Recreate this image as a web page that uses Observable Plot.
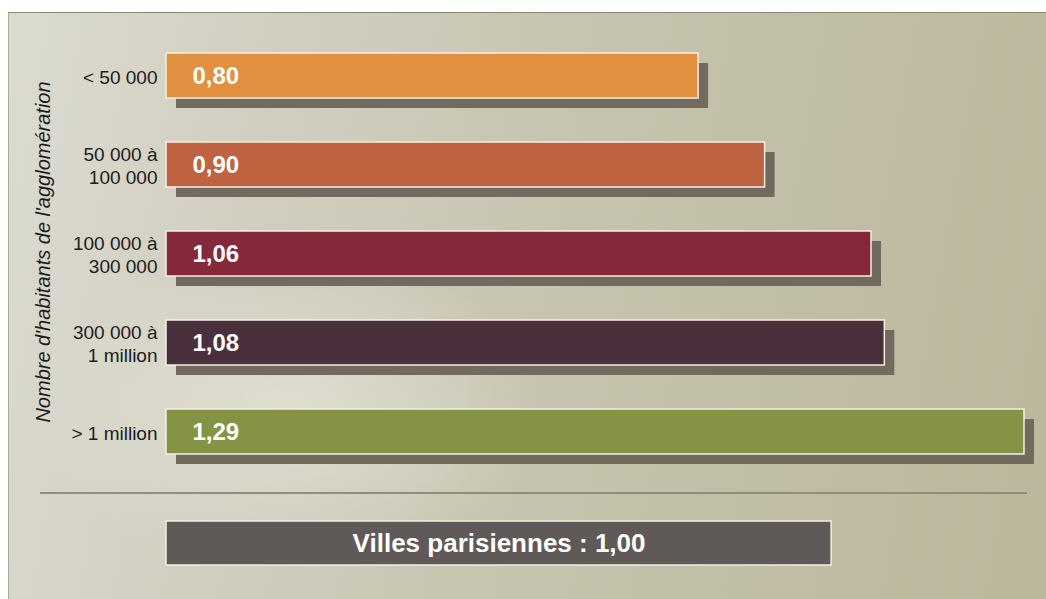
<!DOCTYPE html>
<html>
<head>
<meta charset="utf-8">
<script src="https://cdn.jsdelivr.net/npm/d3@7"></script>
<script src="https://cdn.jsdelivr.net/npm/@observablehq/plot@0.6"></script>
<style>
  html, body { margin: 0; padding: 0; background: #ffffff; }
  #panel {
    position: absolute; left: 8px; top: 12px; width: 1038px; height: 587px;
    border-top: 1px solid #8a8670; border-left: 1px solid #a9a796; box-sizing: border-box;
    background:
      radial-gradient(ellipse 260px 160px at 27% 68%, rgba(238,236,226,0.55), rgba(238,236,226,0) 100%),
      linear-gradient(100deg, #dcdbd0 0%, #d0cebf 25%, #c5c3ad 55%, #bfbca3 80%, #bab79d 100%);
    font-family: "Liberation Sans", Arial, sans-serif;
    overflow: hidden;
  }
  #panel svg { display: block; background: transparent; }
  #divider { margin: 9px 0 0 31px; width: 987px; height: 2px; background: #8f8d7b; }
</style>
</head>
<body>
<div id="panel"></div>
<script>
const categories = ["< 50 000", "50 000 à\n100 000", "100 000 à\n300 000", "300 000 à\n1 million", "> 1 million"];
const values = [0.80, 0.90, 1.06, 1.08, 1.29];
const colors = ["#e0903f", "#bf6340", "#85293a", "#4a2f3d", "#849444"];
const axisTitle = "Nombre d'habitants de l'agglomération";
const parisLabel = "Villes parisiennes";
const parisValue = 1.00;

const fmt = v => v.toFixed(2).replace(".", ",");
const data = categories.map((c, i) => ({category: c, value: values[i]}));
const xDomain = [0, d3.max(values)];

const panel = document.getElementById("panel");

const main = Plot.plot({
  width: 1037, height: 470,
  marginLeft: 157, marginRight: 22, marginTop: 16, marginBottom: 5,
  style: {background: "transparent", color: "#1c1c1c", fontFamily: "Liberation Sans, Arial, sans-serif"},
  x: {domain: xDomain, axis: null},
  y: {domain: categories, paddingInner: 0.5, paddingOuter: 0.25},
  color: {domain: categories, range: colors},
  marks: [
    Plot.barX(data, {x: "value", y: "category", fill: "#726a5e", dx: 10, dy: 10}),
    Plot.barX(data, {x: "value", y: "category", fill: "category", stroke: "#f4f0e4", strokeWidth: 1.5}),
    Plot.text(data, {x: 0, y: "category", text: d => fmt(d.value), dx: 26, textAnchor: "start",
      fill: "white", fontWeight: "bold", fontSize: 24}),
    Plot.axisY({tickSize: 0, tickPadding: 9, fontSize: 19, lineHeight: 1.25, label: null, textAnchor: "end"}),
    Plot.text([axisTitle], {frameAnchor: "left", textAnchor: "middle", rotate: -90, dx: -123, dy: -2,
      fontStyle: "italic", fontSize: 20, fill: "#1c1c1c"})
  ]
});
panel.appendChild(main);

const divider = document.createElement("div");
divider.id = "divider";
panel.appendChild(divider);

const paris = Plot.plot({
  width: 1037, height: 106,
  marginLeft: 157, marginRight: 22, marginTop: 27, marginBottom: 35,
  style: {background: "transparent", fontFamily: "Liberation Sans, Arial, sans-serif"},
  x: {domain: xDomain, axis: null},
  y: {domain: [parisLabel], padding: 0, axis: null},
  marks: [
    Plot.barX([{label: parisLabel, value: parisValue}], {x: "value", y: "label", fill: "#5f5a57",
      stroke: "#f4f0e4", strokeWidth: 1.5}),
    Plot.text([{label: parisLabel, value: parisValue}], {x: d => d.value / 2, y: "label",
      text: d => `${d.label} : ${fmt(d.value)}`, fill: "white", fontWeight: "bold", fontSize: 26})
  ]
});
panel.appendChild(paris);
</script>
</body>
</html>
